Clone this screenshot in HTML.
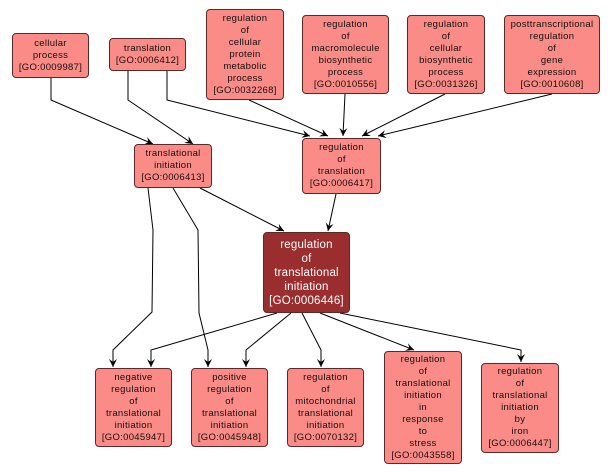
<!DOCTYPE html>
<html><head><style>
body{margin:0;width:614px;height:475px;background:#fff;position:relative;overflow:hidden;font-family:"Liberation Sans",sans-serif}
.b{position:absolute;box-sizing:border-box;background:#fa8b86;border:1px solid #5a2a28;border-radius:4px;display:flex;align-items:center;justify-content:center;text-align:center;font-size:9.5px;line-height:12px;color:#111;letter-spacing:0.3px}
.c{background:#9a2e2e;color:#fff;font-size:11.5px;line-height:14px;letter-spacing:0.2px}
svg{position:absolute;left:0;top:0}
</style></head><body>
<svg width="614" height="475">
<defs><marker id="a" markerWidth="10" markerHeight="10" refX="8" refY="4" orient="auto" markerUnits="userSpaceOnUse"><path d="M0,0 L8,4 L0,8 L3,4 z" fill="#000"/></marker></defs>
<g fill="none" stroke="#000" stroke-width="1" marker-end="url(#a)">
<polyline points="51,78 51,100 153,144"/>
<polyline points="128,71 128,100 193,144"/>
<polyline points="167,71 167,100 310,136"/>
<polyline points="249,100 328,136"/>
<polyline points="345,94 343,136"/>
<polyline points="445,94 362,136"/>
<polyline points="552,94 378,136"/>
<polyline points="200,188 284,231"/>
<polyline points="336,194 328,231"/>
<polyline points="148,188 153,230 152,312 113,350 113,367"/>
<polyline points="173,188 198,230 199,313 208,350 208,367"/>
<polyline points="277,313 151,350 151,367"/>
<polyline points="291,313 246,350 246,367"/>
<polyline points="302,313 321,350 321,367"/>
<polyline points="320,313 414,350"/>
<polyline points="340,313 521,350 521,362"/>
</g></svg>
<div class="b" style="left:12px;top:33px;width:77px;height:45px">cellular<br>process<br>[GO:0009987]</div>
<div class="b" style="left:109px;top:38px;width:77px;height:33px">translation<br>[GO:0006412]</div>
<div class="b" style="left:206px;top:9px;width:78px;height:91px">regulation<br>of<br>cellular<br>protein<br>metabolic<br>process<br>[GO:0032268]</div>
<div class="b" style="left:302px;top:15px;width:87px;height:79px">regulation<br>of<br>macromolecule<br>biosynthetic<br>process<br>[GO:0010556]</div>
<div class="b" style="left:407px;top:15px;width:78px;height:79px">regulation<br>of<br>cellular<br>biosynthetic<br>process<br>[GO:0031326]</div>
<div class="b" style="left:504px;top:15px;width:96px;height:79px">posttranscriptional<br>regulation<br>of<br>gene<br>expression<br>[GO:0010608]</div>
<div class="b" style="left:134px;top:144px;width:78px;height:44px">translational<br>initiation<br>[GO:0006413]</div>
<div class="b" style="left:302px;top:138px;width:79px;height:56px">regulation<br>of<br>translation<br>[GO:0006417]</div>
<div class="b c" style="left:263px;top:232px;width:87px;height:81px">regulation<br>of<br>translational<br>initiation<br>[GO:0006446]</div>
<div class="b" style="left:95px;top:368px;width:77px;height:79px">negative<br>regulation<br>of<br>translational<br>initiation<br>[GO:0045947]</div>
<div class="b" style="left:191px;top:368px;width:77px;height:79px">positive<br>regulation<br>of<br>translational<br>initiation<br>[GO:0045948]</div>
<div class="b" style="left:287px;top:368px;width:77px;height:79px">regulation<br>of<br>mitochondrial<br>translational<br>initiation<br>[GO:0070132]</div>
<div class="b" style="left:384px;top:351px;width:78px;height:113px">regulation<br>of<br>translational<br>initiation<br>in<br>response<br>to<br>stress<br>[GO:0043558]</div>
<div class="b" style="left:481px;top:363px;width:78px;height:90px">regulation<br>of<br>translational<br>initiation<br>by<br>iron<br>[GO:0006447]</div>
</body></html>
